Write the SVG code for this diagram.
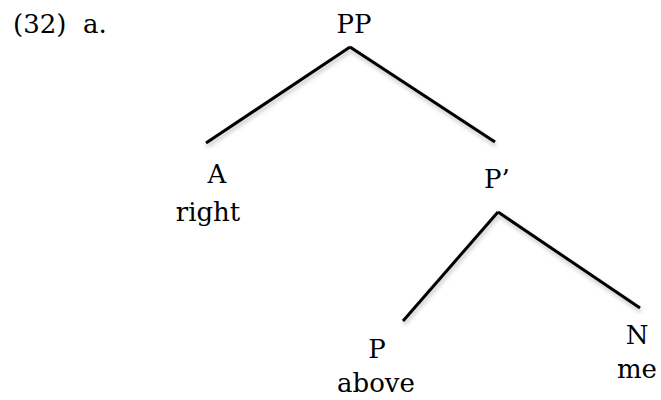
<svg xmlns="http://www.w3.org/2000/svg" width="661" height="400" viewBox="0 0 661 400">
<style>
text{font-family:"DejaVu Serif","Liberation Serif",serif;font-size:26px;fill:#000;text-anchor:middle}
.e line{stroke:#000;stroke-width:3;stroke-linecap:butt}
</style>
<defs>
<filter id="sh" x="-10%" y="-10%" width="130%" height="130%">
<feDropShadow dx="1" dy="3" stdDeviation="2" flood-color="#000" flood-opacity="0.25"/>
</filter>
</defs>
<rect width="661" height="400" fill="#fff"/>
<text x="13" y="33" style="text-anchor:start" xml:space="preserve">(32)  a.</text>
<g class="e" id="edges" filter="url(#sh)">
<line x1="350" y1="47" x2="206" y2="143"/>
<line x1="350" y1="47" x2="495" y2="142"/>
<line x1="498" y1="212" x2="403" y2="321"/>
<line x1="498" y1="212" x2="640" y2="308"/>
</g>
<g id="PP"><text x="354" y="33">PP</text></g>
<g id="A"><text x="217" y="183">A</text><text x="208" y="221">right</text></g>
<g id="Pbar"><text x="497" y="188">P’</text></g>
<g id="P"><text x="377" y="358">P</text><text x="376" y="392">above</text></g>
<g id="N"><text x="637" y="344">N</text><text x="637" y="378">me</text></g>
</svg>
